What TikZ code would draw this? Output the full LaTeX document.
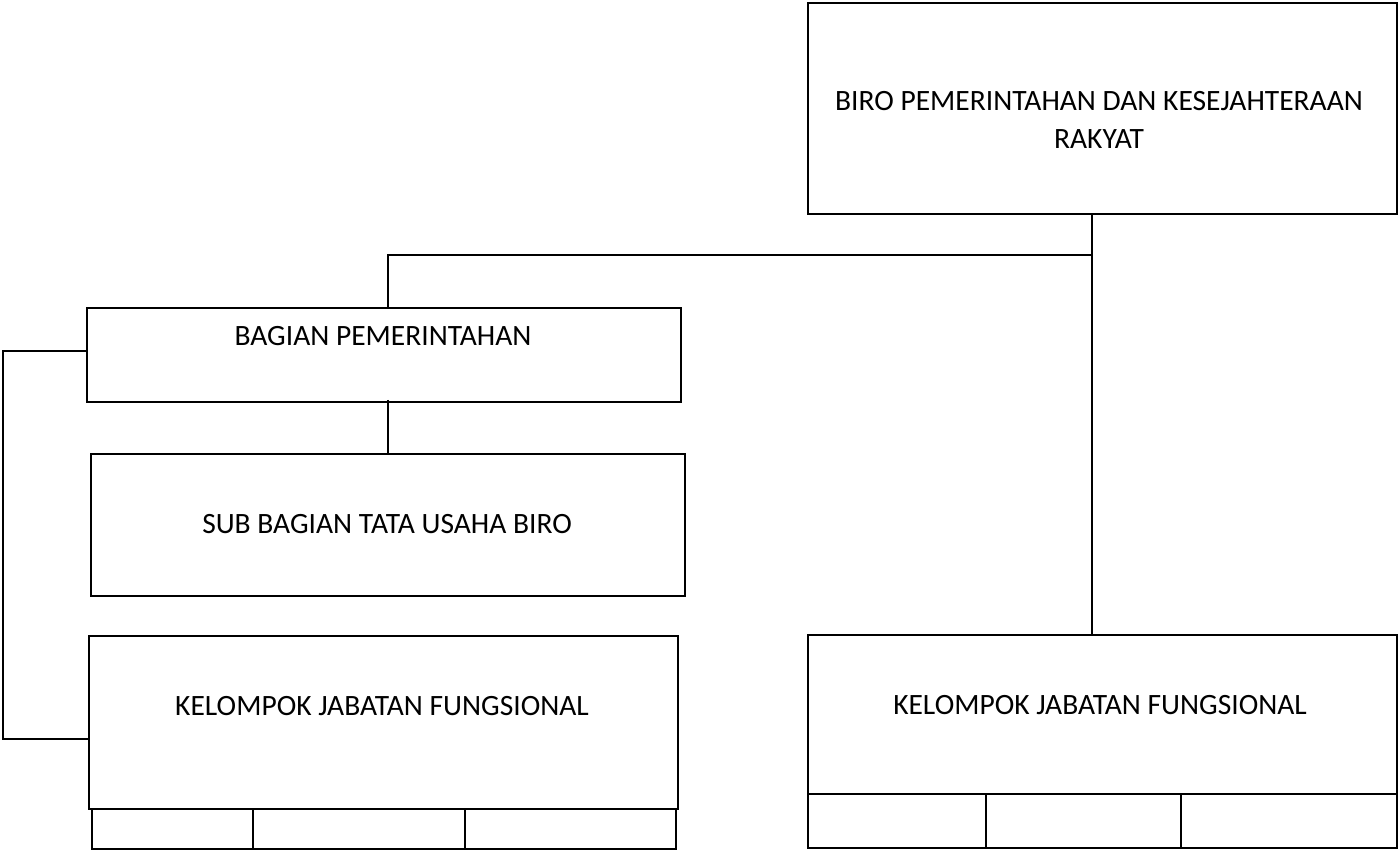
\documentclass[tikz,border=0pt]{standalone}
\usepackage{fontspec}
\setmainfont{Carlito}
\begin{document}
\begin{tikzpicture}[x=1pt,y=-1pt,
  box/.style={draw,line width=1.9pt,rectangle,inner sep=0pt,anchor=north west},
  cell/.style={draw,line width=1.6pt,rectangle,inner sep=0pt,anchor=north west},
  lbl/.style={inner sep=0pt,align=center,font=\fontsize{29.5}{38}\selectfont},
  conn/.style={line width=1.2pt}]
\useasboundingbox (0,0) rectangle (1398,850);
% boxes
\node[box,minimum width=589pt,minimum height=211pt] (top) at (807,2) {};
\node[box,minimum width=594pt,minimum height=94pt] (bp) at (86,307) {};
\node[box,minimum width=594pt,minimum height=142pt] (sb) at (90,453) {};
\node[box,minimum width=589pt,minimum height=173pt] (kl) at (88,635) {};
\node[box,minimum width=589pt,minimum height=159pt] (kr) at (807,634) {};
% cells
\node[cell,minimum width=161pt,minimum height=40pt] (kl1) at (91,808) {};
\node[cell,minimum width=212pt,minimum height=40pt] (kl2) at (252,808) {};
\node[cell,minimum width=211pt,minimum height=40pt] (kl3) at (464,808) {};
\node[cell,minimum width=178pt,minimum height=54pt] (kr1) at (807,793) {};
\node[cell,minimum width=195pt,minimum height=54pt] (kr2) at (985,793) {};
\node[cell,minimum width=216pt,minimum height=54pt] (kr3) at (1180,793) {};
% texts
\node[lbl] (ttop) at (1099,120) {BIRO PEMERINTAHAN DAN KESEJAHTERAAN\\RAKYAT};
\node[lbl] (tbp) at (383,336) {BAGIAN PEMERINTAHAN};
\node[lbl] (tsb) at (387,524) {SUB BAGIAN TATA USAHA BIRO};
\node[lbl] (tkl) at (382,706) {KELOMPOK JABATAN FUNGSIONAL};
\node[lbl] (tkr) at (1100,705) {KELOMPOK JABATAN FUNGSIONAL};
% connectors
\coordinate (j) at (1092,255);
\coordinate (j1) at (388,255);
\coordinate (lx) at (3,351);
\draw[conn] (top.south -| j) -- (kr.north -| j);
\draw[conn] (j) -- (j1) -- (j1 |- bp.north);
\draw[conn] ([yshift=3pt]bp.south -| j1) -- (sb.north -| j1);
\draw[conn] (bp.west |- lx) -- (lx) |- (kl.west |- 0,739);
\end{tikzpicture}
\end{document}
